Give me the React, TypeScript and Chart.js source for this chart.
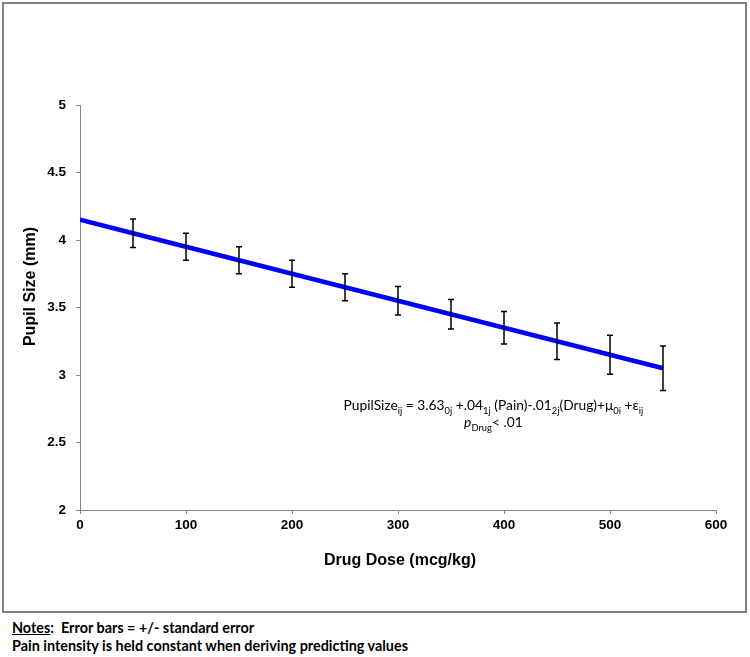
import React, { useEffect, useRef } from 'react';
import { Chart, registerables } from 'chart.js';

Chart.register(...registerables);

// ---- Data ----
const doses = [0, 50, 100, 150, 200, 250, 300, 350, 400, 450, 500, 550];
const predictedSize = [4.15, 4.05, 3.95, 3.85, 3.75, 3.65, 3.55, 3.45, 3.35, 3.25, 3.15, 3.05];
const standardError: (number | null)[] = [null, 0.105, 0.1, 0.1, 0.1, 0.1, 0.105, 0.11, 0.12, 0.135, 0.145, 0.165];
const xTicks = [0, 100, 200, 300, 400, 500, 600];
const yTicks = [2, 2.5, 3, 3.5, 4, 4.5, 5];
const xTitle = 'Drug Dose (mcg/kg)';
const yTitle = 'Pupil Size (mm)';
// equation annotation anchor (data units)
const annotationAnchor = { x: 390, y: 2.78 };

type Seg = { t: string; sub?: boolean; italic?: boolean };
const equationLine1: Seg[] = [
  { t: 'PupilSize' }, { t: 'ij', sub: true },
  { t: ' = 3.63' }, { t: '0j', sub: true },
  { t: ' +.04' }, { t: '1j', sub: true },
  { t: ' (Pain)-.01' }, { t: '2j', sub: true },
  { t: '(Drug)+\u03BC' }, { t: '0i', sub: true },
  { t: ' +\u03B5' }, { t: 'ij', sub: true },
];
const equationLine2: Seg[] = [
  { t: 'p', italic: true }, { t: 'Drug', sub: true }, { t: '< .01' },
];

const AXIS_COLOR = '#868686';
const TEXT_FONT = 'Lato, "Open Sans", sans-serif';

function drawRich(ctx: CanvasRenderingContext2D, segs: Seg[], cx: number, baseline: number, size: number) {
  const subSize = size * 0.68;
  const fontFor = (s: Seg) => `${s.italic ? 'italic ' : ''}${s.sub ? subSize : size}px ${TEXT_FONT}`;
  let total = 0;
  const widths = segs.map((s) => {
    ctx.font = fontFor(s);
    const w = ctx.measureText(s.t).width;
    total += w;
    return w;
  });
  let x = cx - total / 2;
  ctx.textAlign = 'left';
  ctx.textBaseline = 'alphabetic';
  segs.forEach((s, i) => {
    ctx.font = fontFor(s);
    ctx.fillText(s.t, x, s.sub ? baseline + size * 0.28 : baseline);
    x += widths[i];
  });
}

const errorBarPlugin = {
  id: 'errorBars',
  afterDatasetsDraw(chart: any) {
    const { ctx, scales } = chart;
    const xs = scales.x;
    const ys = scales.y;
    ctx.save();
    ctx.strokeStyle = '#000000';
    ctx.lineWidth = 1.5;
    doses.forEach((d, i) => {
      const se = standardError[i];
      if (se == null) return;
      const px = xs.getPixelForValue(d);
      const top = ys.getPixelForValue(predictedSize[i] + se);
      const bot = ys.getPixelForValue(predictedSize[i] - se);
      const cap = 3;
      ctx.beginPath();
      ctx.moveTo(px, top);
      ctx.lineTo(px, bot);
      ctx.moveTo(px - cap, top);
      ctx.lineTo(px + cap, top);
      ctx.moveTo(px - cap, bot);
      ctx.lineTo(px + cap, bot);
      ctx.stroke();
    });
    ctx.restore();
  },
};

const textPlugin = {
  id: 'textOverlay',
  afterDraw(chart: any) {
    const { ctx, chartArea, scales } = chart;
    ctx.save();
    ctx.fillStyle = '#000000';
    // axis titles
    ctx.font = 'bold 16px "Liberation Sans", Arial, sans-serif';
    ctx.textAlign = 'center';
    ctx.textBaseline = 'middle';
    ctx.fillText(xTitle, (chartArea.left + chartArea.right) / 2 + 2, chartArea.bottom + 51);
    ctx.save();
    ctx.translate(31, (chartArea.top + chartArea.bottom) / 2 - 21);
    ctx.rotate(-Math.PI / 2);
    ctx.fillText(yTitle, 0, 0);
    ctx.restore();
    // equation
    const ax = scales.x.getPixelForValue(annotationAnchor.x);
    const ay = scales.y.getPixelForValue(annotationAnchor.y);
    drawRich(ctx, equationLine1, ax, ay + 5, 13.8);
    drawRich(ctx, equationLine2, ax, ay + 22, 13.8);
    ctx.restore();
  },
};

export default function App() {
  const canvasRef = useRef<HTMLCanvasElement | null>(null);

  useEffect(() => {
    document.body.style.margin = '0';
    const canvas = canvasRef.current;
    if (!canvas) return;
    const chart = new Chart(canvas, {
      type: 'line',
      data: {
        datasets: [
          {
            data: doses.map((d, i) => ({ x: d, y: predictedSize[i] })),
            borderColor: '#0000FF',
            borderWidth: 4.5,
            pointRadius: 0,
            fill: false,
            tension: 0,
          },
        ],
      },
      options: {
        animation: false,
        responsive: false,
        maintainAspectRatio: false,
        devicePixelRatio: 1,
        layout: { padding: { top: 105, right: 34, left: 0, bottom: 0 } },
        plugins: {
          legend: { display: false },
          tooltip: { enabled: false },
          title: { display: false },
        },
        scales: {
          x: {
            type: 'linear',
            min: 0,
            max: 600,
            afterFit: (s: any) => { s.height = 105; },
            afterBuildTicks: (s: any) => { s.ticks = xTicks.map((v) => ({ value: v })); },
            ticks: {
              color: '#000000',
              font: { family: '"Liberation Sans", Arial, sans-serif', size: 13.5, weight: 'bold' },
              padding: 3,
              maxRotation: 0,
              callback: (v: any) => String(v),
            },
            grid: { drawOnChartArea: false, drawTicks: true, tickLength: 4, color: AXIS_COLOR },
            border: { display: true, color: AXIS_COLOR, width: 1 },
          },
          y: {
            type: 'linear',
            min: 2,
            max: 5,
            afterFit: (s: any) => { s.width = 80; },
            afterBuildTicks: (s: any) => { s.ticks = yTicks.map((v) => ({ value: v })); },
            ticks: {
              color: '#000000',
              font: { family: '"Liberation Sans", Arial, sans-serif', size: 13.5, weight: 'bold' },
              padding: 10,
              callback: (v: any) => String(v),
            },
            grid: { drawOnChartArea: false, drawTicks: true, tickLength: 4, color: AXIS_COLOR },
            border: { display: true, color: AXIS_COLOR, width: 1 },
          },
        },
      },
      plugins: [errorBarPlugin, textPlugin],
    } as any);
    return () => chart.destroy();
  }, []);

  const noteStyle: React.CSSProperties = {
    position: 'absolute',
    left: 12,
    fontFamily: TEXT_FONT,
    fontWeight: 'bold',
    fontSize: 14.4,
    lineHeight: '18px',
    color: '#000',
    whiteSpace: 'nowrap',
  };

  return (
    <div style={{ position: 'relative', width: 750, height: 657, background: '#fff', overflow: 'hidden' }}>
      <canvas ref={canvasRef} width={750} height={615} style={{ position: 'absolute', left: 0, top: 0, display: 'block' }} />
      <div
        style={{
          position: 'absolute',
          left: 2,
          top: 2,
          width: 745,
          height: 611,
          boxSizing: 'border-box',
          border: '2px solid #7f7f7f',
          pointerEvents: 'none',
        }}
      />
      <div style={{ ...noteStyle, top: 619 }}>
        <span style={{ textDecoration: 'underline' }}>Notes</span>:&nbsp; Error bars = +/- standard error
      </div>
      <div style={{ ...noteStyle, top: 637 }}>Pain intensity is held constant when deriving predicting values</div>
    </div>
  );
}
